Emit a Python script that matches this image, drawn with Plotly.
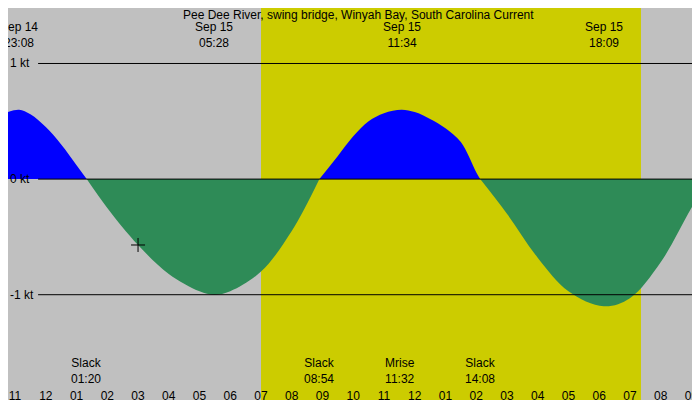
import plotly.graph_objs as go

# hours since Sep 14 00:00
flood_a_t = [22.77, 23.13, 23.5, 24.0, 24.5, 25.0, 25.33]
flood_a_v = [0.58, 0.60, 0.56, 0.45, 0.30, 0.12, 0.0]
ebb_a_t = [25.33, 26.0, 27.0, 28.0, 29.0, 29.47, 30.0, 31.0, 32.0, 32.9]
ebb_a_v = [0.0, -0.25, -0.57, -0.82, -0.97, -1.0, -0.97, -0.80, -0.45, 0.0]
flood_b_t = [32.9, 33.5, 34.0, 34.5, 35.0, 35.57, 36.0, 36.5, 37.0, 37.5, 38.0, 38.13]
flood_b_v = [0.0, 0.20, 0.37, 0.50, 0.57, 0.60, 0.58, 0.52, 0.44, 0.32, 0.06, 0.0]
ebb_b_t = [38.13, 39.0, 40.0, 41.0, 42.15, 43.0, 44.0, 45.0, 45.58]
ebb_b_v = [0.0, -0.30, -0.68, -0.97, -1.10, -1.03, -0.72, -0.25, 0.0]

sunrise, sunset = 31.0, 43.36
now_t, now_v = 27.0, -0.57

top_labels = [(23.13, "Sep 14<br>23:08"), (29.47, "Sep 15<br>05:28"),
              (35.57, "Sep 15<br>11:34"), (42.15, "Sep 15<br>18:09")]
bottom_labels = [(25.33, "Slack<br>01:20"), (32.9, "Slack<br>08:54"),
                 (35.53, "Mrise<br>11:32"), (38.13, "Slack<br>14:08"),
                 (45.58, "Slack<br>21:35")]
tick_hours = list(range(23, 46))
tick_text = ["%02d" % ((h % 12) or 12) for h in tick_hours]

x0, x1 = 22.77, 45.54
fig = go.Figure()
for t, v, c in [(flood_a_t, flood_a_v, "#0000ff"), (ebb_a_t, ebb_a_v, "#2e8b57"),
                (flood_b_t, flood_b_v, "#0000ff"), (ebb_b_t, ebb_b_v, "#2e8b57")]:
    fig.add_trace(go.Scatter(x=t, y=v, mode="lines", fill="tozeroy",
                             line=dict(color=c, width=0, shape="spline"),
                             fillcolor=c, showlegend=False, hoverinfo="skip"))
fig.add_trace(go.Scatter(x=[now_t], y=[now_v], mode="markers",
                         marker=dict(symbol="cross-thin", size=10,
                                     line=dict(color="black", width=1)),
                         showlegend=False))

fig.add_vrect(x0=sunrise, x1=sunset, fillcolor="#cccc00", opacity=1,
              line_width=0, layer="below")
for lv in [1, 0, -1]:
    fig.add_shape(type="line", xref="paper", x0=0.043, x1=1, y0=lv, y1=lv,
                  line=dict(color="black", width=1))
    fig.add_annotation(x=0.0, xref="paper", y=lv, text="%d kt" % lv,
                       showarrow=False, xanchor="left", font=dict(size=12))

fig.add_annotation(x=0.5, xref="paper", y=1.0, yref="paper", yanchor="top",
                   yshift=2, text="Pee Dee River, swing bridge, Winyah Bay, South Carolina Current",
                   showarrow=False, font=dict(size=12))
for t, s in top_labels:
    fig.add_annotation(x=t, y=1.0, yref="paper", yanchor="top", yshift=-10,
                       text=s, showarrow=False, font=dict(size=12))
for t, s in bottom_labels:
    fig.add_annotation(x=t, y=0.0, yref="paper", yanchor="bottom", yshift=20,
                       text=s, showarrow=False, font=dict(size=12))

fig.update_xaxes(range=[x0, x1], tickvals=tick_hours, ticktext=tick_text,
                 ticks="inside", ticklen=5, tickcolor="black",
                 ticklabelposition="inside", showgrid=False, zeroline=False,
                 tickfont=dict(size=12, color="black"))
fig.update_yaxes(range=[-1.98, 1.48], visible=False)
fig.update_layout(width=700, height=400,
                  margin=dict(l=0, r=0, t=0, b=0, pad=0, autoexpand=False),
                  plot_bgcolor="#c0c0c0", paper_bgcolor="#c0c0c0",
                  font=dict(family="Liberation Sans", color="black"))
fig.write_html("out.html")
